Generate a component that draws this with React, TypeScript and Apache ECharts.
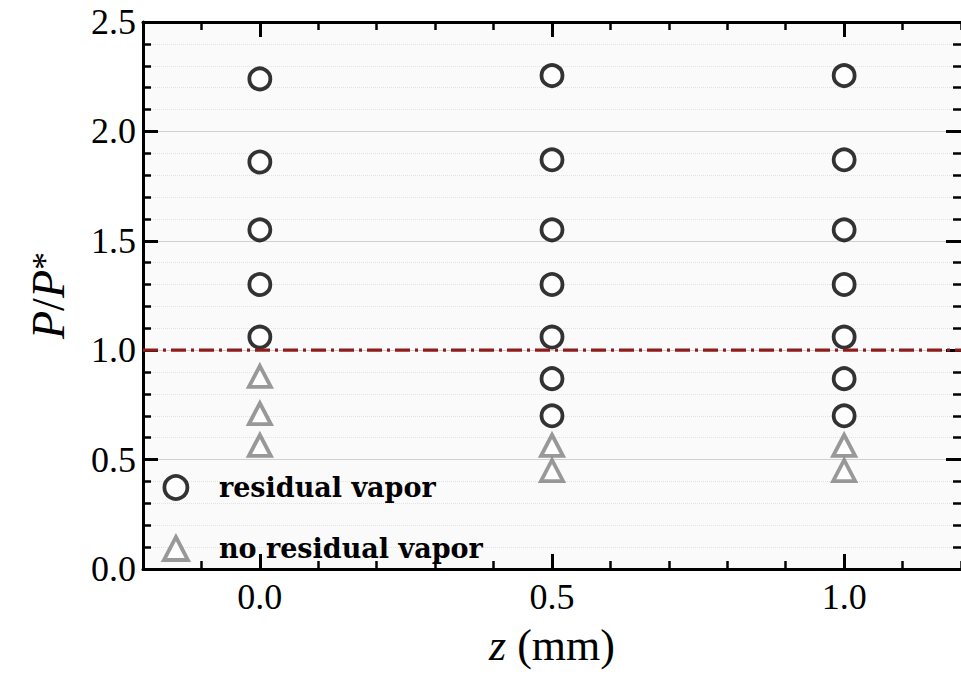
import React, { useEffect, useRef } from "react";
import * as echarts from "echarts";

// ---- data ----
const zPositions = [0.0, 0.5, 1.0];
const residualVaporZ0 = [2.24, 1.86, 1.55, 1.3, 1.06];
const residualVaporZ05 = [2.255, 1.87, 1.55, 1.3, 1.06, 0.87, 0.7];
const residualVaporZ1 = [2.255, 1.87, 1.55, 1.3, 1.06, 0.87, 0.7];
const noResidualVaporZ0 = [0.88, 0.71, 0.565];
const noResidualVaporZ05 = [0.565, 0.45];
const noResidualVaporZ1 = [0.565, 0.45];
const thresholdRatio = 1.0;
const xMajorTicks = [0.0, 0.5, 1.0];
const xRange = [-0.2, 1.2];
const yRange = [0, 2.5];
const seriesNames = ["residual vapor", "no residual vapor"];

const SERIF = "'Liberation Serif', 'Times New Roman', serif";
const LEGEND_FONT = "'DejaVu Serif', serif";

export default function App() {
  const ref = useRef<HTMLDivElement>(null);

  useEffect(() => {
    if (!ref.current) return;
    const chart = echarts.init(ref.current, null, { renderer: "svg" });

    const residualGroups = [residualVaporZ0, residualVaporZ05, residualVaporZ1];
    const noResidualGroups = [noResidualVaporZ0, noResidualVaporZ05, noResidualVaporZ1];
    const residualData = residualGroups.flatMap((vals, i) => vals.map((v) => [zPositions[i], v]));
    const noResidualData = noResidualGroups.flatMap((vals, i) => vals.map((v) => [zPositions[i], v]));

    const tickLine = { color: "#000", width: 3 };
    const minorLine = { color: "#000", width: 2.5 };
    const circleStyle = { color: "#ffffff", borderColor: "#000000", borderWidth: 3.8 };
    const triangleStyle = { color: "#ffffff", borderColor: "#808080", borderWidth: 3.8 };

    const baseX = {
      type: "value" as const,
      min: xRange[0],
      max: xRange[1],
      interval: 0.1,
      splitLine: { show: false },
    };

    const option: any = {
      animation: false,
      backgroundColor: "#ffffff",
      grid: {
        left: 139,
        top: 22,
        width: 825,
        height: 547,
        show: true,
        backgroundColor: "#fafafa",
        borderWidth: 0,
      },
      legend: {
        data: [
          { name: seriesNames[0], itemStyle: circleStyle },
          { name: seriesNames[1], itemStyle: triangleStyle },
        ],
        orient: "vertical",
        left: 162,
        top: 474,
        padding: 0,
        itemWidth: 24,
        itemHeight: 23,
        itemGap: 34,
        symbolKeepAspect: true,
        textStyle: {
          fontFamily: LEGEND_FONT,
          fontWeight: "bold",
          fontSize: 27,
          color: "#000",
          lineHeight: 26,
          padding: [0, 0, 0, 26],
        },
      },
      xAxis: [
        {
          ...baseX,
          position: "bottom",
          axisLine: { show: true, onZero: false, lineStyle: { color: "#000", width: 3 } },
          axisTick: { show: true, inside: true, length: 8, lineStyle: minorLine },
          axisLabel: { show: false },
        },
        {
          ...baseX,
          position: "bottom",
          axisLine: { show: false, onZero: false },
          axisTick: { show: true, inside: true, length: 15, customValues: xMajorTicks, lineStyle: tickLine },
          axisLabel: {
            show: true,
            customValues: xMajorTicks,
            formatter: (v: number) => v.toFixed(1),
            margin: 10,
            fontFamily: SERIF,
            fontSize: 36,
            color: "#000",
          },
          name: "{i|z} (mm)",
          nameLocation: "middle",
          nameGap: 54,
          nameTextStyle: {
            fontFamily: SERIF,
            fontSize: 44,
            color: "#000",
            lineHeight: 44,
            rich: {
              i: { fontFamily: SERIF, fontSize: 44, fontStyle: "italic", color: "#000", lineHeight: 44 },
            },
          },
        },
        {
          ...baseX,
          position: "top",
          axisLine: { show: true, onZero: false, lineStyle: { color: "#000", width: 3 } },
          axisTick: { show: true, inside: true, length: 8, lineStyle: minorLine },
          axisLabel: { show: false },
        },
        {
          ...baseX,
          position: "top",
          axisLine: { show: false, onZero: false },
          axisTick: { show: true, inside: true, length: 15, customValues: xMajorTicks, lineStyle: tickLine },
          axisLabel: { show: false },
        },
      ],
      yAxis: [
        {
          type: "value",
          position: "left",
          min: yRange[0],
          max: yRange[1],
          interval: 0.5,
          axisLine: { show: true, onZero: false, lineStyle: { color: "#000", width: 3 } },
          axisTick: { show: true, inside: true, length: 15, lineStyle: tickLine },
          minorTick: { show: true, splitNumber: 5, length: 8, lineStyle: minorLine },
          splitLine: { show: true, lineStyle: { color: "#cfcfcf", width: 1 } },
          minorSplitLine: { show: true, lineStyle: { color: "#e2e2e2", width: 1, type: "dotted" } },
          axisLabel: {
            formatter: (v: number) => v.toFixed(1),
            margin: 7,
            fontFamily: SERIF,
            fontSize: 36,
            color: "#000",
          },
          name: "{i|P}{n|/}{i|P}{s|*}",
          nameLocation: "middle",
          nameRotate: 90,
          nameGap: 72,
          nameTextStyle: {
            fontFamily: SERIF,
            fontSize: 44,
            color: "#000",
            rich: {
              i: {
                fontFamily: SERIF,
                fontSize: 46,
                fontStyle: "italic",
                color: "#000",
                lineHeight: 44,
                padding: [17, 0, 0, 0],
                verticalAlign: "bottom",
              },
              n: {
                fontFamily: SERIF,
                fontSize: 46,
                color: "#000",
                lineHeight: 44,
                padding: [17, 0, 0, 0],
                verticalAlign: "bottom",
              },
              s: {
                fontFamily: SERIF,
                fontSize: 36,
                color: "#000",
                lineHeight: 36,
                verticalAlign: "top",
              },
            },
          },
        },
        {
          type: "value",
          position: "right",
          min: yRange[0],
          max: yRange[1],
          interval: 0.5,
          axisLine: { show: false, onZero: false },
          axisTick: { show: true, inside: true, length: 15, lineStyle: tickLine },
          minorTick: { show: true, splitNumber: 5, length: 8, lineStyle: minorLine },
          splitLine: { show: false },
          axisLabel: { show: false },
        },
      ],
      series: [
        {
          name: seriesNames[0],
          type: "scatter",
          xAxisIndex: 0,
          yAxisIndex: 0,
          symbol: "circle",
          symbolSize: 21,
          itemStyle: circleStyle,
          data: residualData,
          z: 3,
        },
        {
          name: seriesNames[1],
          type: "scatter",
          xAxisIndex: 0,
          yAxisIndex: 0,
          symbol: "triangle",
          symbolSize: [22, 21],
          itemStyle: triangleStyle,
          data: noResidualData,
          z: 3,
        },
        {
          name: "threshold",
          type: "line",
          xAxisIndex: 0,
          yAxisIndex: 0,
          showSymbol: false,
          symbol: "none",
          silent: true,
          lineStyle: { color: "#8e1c1c", width: 3.2, type: [15, 5, 3, 5] },
          data: [
            [xRange[0], thresholdRatio],
            [xRange[1], thresholdRatio],
          ],
          z: 4,
        },
      ],
    };

    chart.setOption(option);
    return () => chart.dispose();
  }, []);

  return (
    <div
      ref={ref}
      style={{ position: "fixed", left: 0, top: 0, width: 961, height: 677, background: "#fff" }}
    />
  );
}
